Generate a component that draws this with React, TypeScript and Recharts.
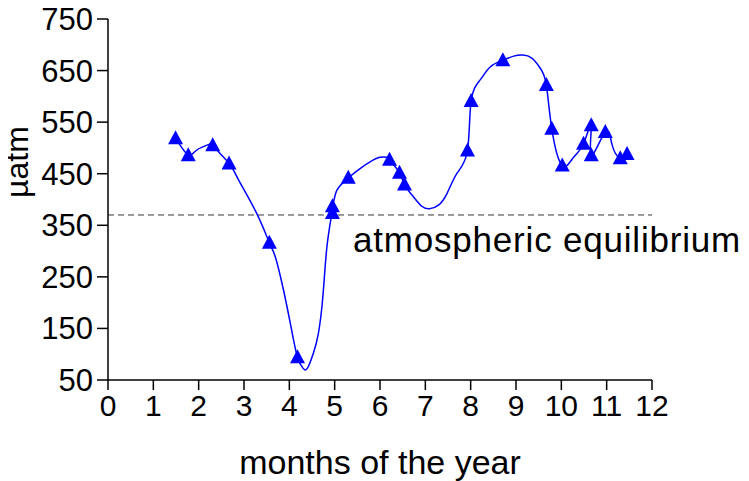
import { ComposedChart, Line, Scatter, XAxis, YAxis, ReferenceLine } from 'recharts';

// sampling month (decimal) and pCO2 in µatm
const months = [1.49, 1.77, 2.31, 2.67, 3.56, 4.18, 4.95, 4.95, 5.3, 6.21, 6.43, 6.54, 7.93, 8.01, 8.71, 9.67, 9.79, 10.02, 10.49, 10.66, 10.66, 10.97, 11.3, 11.45];
const pco2 = [519, 486, 505, 470, 316, 94, 374, 387, 442, 477, 452, 429, 495, 591, 670, 622, 537, 466, 508, 544, 486, 531, 480, 488];

// fitted seasonal curve
const fitMonths = [1.49, 1.77, 1.96, 2.25, 2.31, 2.67, 2.88, 3.28, 3.56, 3.69, 3.87, 4.05, 4.18, 4.3, 4.4, 4.53, 4.64, 4.74, 4.83, 4.95, 5.05, 5.3, 5.56, 5.78, 6.0, 6.15, 6.21, 6.43, 6.54, 6.74, 6.92, 7.09, 7.29, 7.48, 7.7, 7.93, 8.01, 8.21, 8.43, 8.71, 8.95, 9.15, 9.35, 9.54, 9.67, 9.79, 10.02, 10.27, 10.49, 10.66, 10.66, 10.97, 11.12, 11.3, 11.45];
const fitValues = [519, 486, 496, 508, 505, 470, 438, 373, 316, 289, 225, 147, 94, 73, 73, 102, 140, 212, 309, 380, 418, 442, 460, 473, 482, 482, 477, 452, 429, 405, 387, 382, 389, 412, 451, 495, 591, 632, 657, 670, 678, 680, 674, 654, 622, 537, 466, 482, 508, 544, 486, 531, 506, 480, 488];

const monthTicks = [0, 1, 2, 3, 4, 5, 6, 7, 8, 9, 10, 11, 12];
const uatmTicks = [50, 150, 250, 350, 450, 550, 650, 750];
const equilibrium = 370;

const samples = months.map((m, i) => ({ month: m, uatm: pco2[i] }));
const fit = fitMonths.map((m, i) => ({ month: m, uatm: fitValues[i] }));

const font = 'Liberation Sans, Arial, Helvetica, sans-serif';
const blue = '#0000ff';

const Triangle = (props: any) => {
  const { cx, cy } = props;
  if (cx == null || cy == null) return <g />;
  return (
    <path
      d={`M${cx},${cy - 8} L${cx + 7.5},${cy + 6} L${cx - 7.5},${cy + 6} Z`}
      fill={blue}
    />
  );
};

export default function App() {
  return (
    <div style={{ margin: '-8px 0 0 -8px' }}>
      <ComposedChart
        width={749}
        height={481}
        margin={{ top: 19, right: 97, bottom: 0, left: 0 }}
      >
        <XAxis
          dataKey="month"
          type="number"
          domain={[0, 12]}
          ticks={monthTicks}
          interval={0}
          height={101}
          tickSize={10}
          tickMargin={5}
          stroke="#000"
          strokeWidth={1.5}
          tick={{ fill: '#000', fontSize: 30, fontFamily: font }}
          label={(p: any) => {
            const vb = p.viewBox;
            return (
              <text x={vb.x + vb.width / 2} y={vb.y + vb.height - 7} textAnchor="middle"
                fontSize={34} fontFamily={font} fill="#000">
                months of the year
              </text>
            );
          }}
        />
        <YAxis
          type="number"
          domain={[50, 750]}
          ticks={uatmTicks}
          interval={0}
          width={108}
          tickSize={11}
          tickMargin={4}
          stroke="#000"
          strokeWidth={1.5}
          tick={{ fill: '#000', fontSize: 31, fontFamily: font }}
          label={(p: any) => {
            const vb = p.viewBox;
            const cy = vb.y + 143;
            return (
              <text x={28} y={cy} textAnchor="middle" transform={`rotate(-90, 28, ${cy})`}
                fontSize={32} fontFamily={font} fill="#000">
                µatm
              </text>
            );
          }}
        />
        <ReferenceLine
          y={equilibrium}
          stroke="#333"
          strokeDasharray="6 4"
          strokeWidth={1}
          label={(p: any) => {
            const vb = p.viewBox;
            return (
              <text x={vb.x + 245} y={vb.y + 37} fontSize={35} letterSpacing={0.8}
                fontFamily={font} fill="#000">
                atmospheric equilibrium
              </text>
            );
          }}
        />
        <Line
          data={fit}
          dataKey="uatm"
          type="natural"
          stroke={blue}
          strokeWidth={1.5}
          dot={false}
          activeDot={false}
          isAnimationActive={false}
        />
        <Scatter
          data={samples}
          dataKey="uatm"
          fill={blue}
          shape={Triangle}
          isAnimationActive={false}
        />
      </ComposedChart>
    </div>
  );
}
